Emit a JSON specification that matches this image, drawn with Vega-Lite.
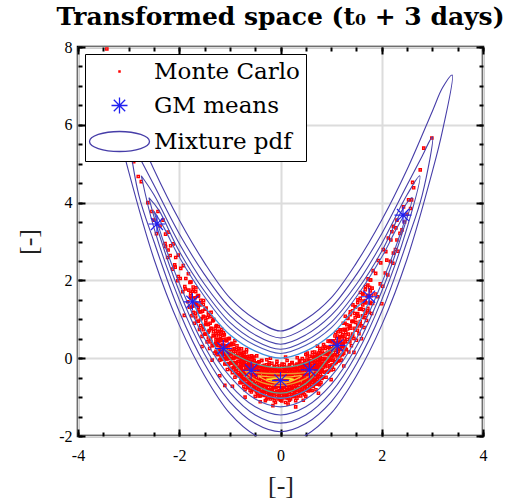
{
"$schema": "https://vega.github.io/schema/vega-lite/v6.json",
"width": 405, "height": 389,
"autosize": {"type": "none"},
"padding": {"left": 78, "top": 47, "right": 23, "bottom": 65},
"background": "white",
"title": {"text": "Transformed space (t₀ + 3 days)", "font": "DejaVu Serif", "fontSize": 25, "fontWeight": "bold", "color": "black", "anchor": "middle", "frame": "group", "offset": 9},
"config": {
  "view": {"stroke": "black", "strokeWidth": 2.5},
  "axis": {"labelFont": "Liberation Serif", "labelFontSize": 16, "labelColor": "black", "titleFont": "Liberation Serif", "titleFontSize": 26, "titleFontWeight": "normal", "titleColor": "#222222", "domain": false, "tickColor": "black", "tickWidth": 2, "gridColor": "#dcdcdc", "gridWidth": 2, "labelFlush": false, "labelOverlap": false, "labelExpr": "replace(datum.label, '\u2212', '-')"}
},
"datasets": {
"mc": [
{"x":-0.8,"y":-0.63},{"x":-0.78,"y":-0.52},{"x":-0.81,"y":-0.42},{"x":-0.79,"y":-0.34},{"x":-0.82,"y":-0.25},{"x":-0.79,"y":-0.17},{"x":-0.78,"y":-0.08},{"x":-0.81,"y":0.01},{"x":-0.8,"y":0.12},{"x":-0.82,"y":0.25},
{"x":-0.75,"y":-0.63},{"x":-0.73,"y":-0.54},{"x":-0.76,"y":-0.43},{"x":-0.74,"y":-0.35},{"x":-0.77,"y":-0.26},{"x":-0.74,"y":-0.18},{"x":-0.73,"y":-0.09},{"x":-0.76,"y":0.0},{"x":-0.75,"y":0.1},{"x":-0.77,"y":0.24},
{"x":-0.7,"y":-0.81},{"x":-0.68,"y":-0.66},{"x":-0.71,"y":-0.56},{"x":-0.69,"y":-0.42},{"x":-0.72,"y":-0.34},{"x":-0.69,"y":-0.25},{"x":-0.68,"y":-0.17},{"x":-0.71,"y":-0.07},{"x":-0.7,"y":0.03},{"x":-0.72,"y":0.1},
{"x":-0.65,"y":-0.75},{"x":-0.63,"y":-0.65},{"x":-0.66,"y":-0.55},{"x":-0.64,"y":-0.42},{"x":-0.67,"y":-0.33},{"x":-0.64,"y":-0.25},{"x":-0.63,"y":-0.16},{"x":-0.66,"y":-0.06},{"x":-0.65,"y":0.04},{"x":-0.67,"y":0.22},
{"x":-0.6,"y":-0.83},{"x":-0.58,"y":-0.72},{"x":-0.61,"y":-0.62},{"x":-0.59,"y":-0.54},{"x":-0.62,"y":-0.45},{"x":-0.59,"y":-0.37},{"x":-0.58,"y":-0.28},{"x":-0.61,"y":-0.19},{"x":-0.6,"y":-0.08},{"x":-0.62,"y":0.05},
{"x":-0.55,"y":-0.81},{"x":-0.53,"y":-0.72},{"x":-0.56,"y":-0.61},{"x":-0.54,"y":-0.53},{"x":-0.57,"y":-0.44},{"x":-0.54,"y":-0.36},{"x":-0.53,"y":-0.27},{"x":-0.56,"y":-0.18},{"x":-0.55,"y":-0.08},{"x":-0.57,"y":0.06},
{"x":-0.5,"y":-0.98},{"x":-0.48,"y":-0.83},{"x":-0.51,"y":-0.73},{"x":-0.49,"y":-0.59},{"x":-0.52,"y":-0.51},{"x":-0.49,"y":-0.42},{"x":-0.48,"y":-0.34},{"x":-0.51,"y":-0.24},{"x":-0.5,"y":-0.14},{"x":-0.52,"y":-0.07},
{"x":-0.45,"y":-0.91},{"x":-0.43,"y":-0.81},{"x":-0.46,"y":-0.71},{"x":-0.44,"y":-0.58},{"x":-0.47,"y":-0.49},{"x":-0.44,"y":-0.41},{"x":-0.43,"y":-0.32},{"x":-0.46,"y":-0.22},{"x":-0.45,"y":-0.12},{"x":-0.47,"y":0.06},
{"x":-0.4,"y":-0.97},{"x":-0.38,"y":-0.86},{"x":-0.41,"y":-0.76},{"x":-0.39,"y":-0.68},{"x":-0.42,"y":-0.59},{"x":-0.39,"y":-0.51},{"x":-0.38,"y":-0.42},{"x":-0.41,"y":-0.33},{"x":-0.4,"y":-0.22},{"x":-0.42,"y":-0.09},
{"x":-0.35,"y":-0.93},{"x":-0.33,"y":-0.84},{"x":-0.36,"y":-0.73},{"x":-0.34,"y":-0.65},{"x":-0.37,"y":-0.56},{"x":-0.34,"y":-0.48},{"x":-0.33,"y":-0.39},{"x":-0.36,"y":-0.3},{"x":-0.35,"y":-0.2},{"x":-0.37,"y":-0.06},
{"x":-0.3,"y":-1.09},{"x":-0.28,"y":-0.94},{"x":-0.31,"y":-0.84},{"x":-0.29,"y":-0.7},{"x":-0.32,"y":-0.62},{"x":-0.29,"y":-0.53},{"x":-0.28,"y":-0.45},{"x":-0.31,"y":-0.35},{"x":-0.3,"y":-0.25},{"x":-0.32,"y":-0.18},
{"x":-0.25,"y":-1.01},{"x":-0.23,"y":-0.91},{"x":-0.26,"y":-0.81},{"x":-0.24,"y":-0.68},{"x":-0.27,"y":-0.59},{"x":-0.24,"y":-0.51},{"x":-0.23,"y":-0.42},{"x":-0.26,"y":-0.32},{"x":-0.25,"y":-0.22},{"x":-0.27,"y":-0.04},
{"x":-0.2,"y":-1.05},{"x":-0.18,"y":-0.94},{"x":-0.21,"y":-0.84},{"x":-0.19,"y":-0.76},{"x":-0.22,"y":-0.67},{"x":-0.19,"y":-0.59},{"x":-0.18,"y":-0.5},{"x":-0.21,"y":-0.41},{"x":-0.2,"y":-0.3},{"x":-0.22,"y":-0.17},
{"x":-0.15,"y":-1.0},{"x":-0.13,"y":-0.91},{"x":-0.16,"y":-0.8},{"x":-0.14,"y":-0.72},{"x":-0.17,"y":-0.63},{"x":-0.14,"y":-0.55},{"x":-0.13,"y":-0.46},{"x":-0.16,"y":-0.37},{"x":-0.15,"y":-0.27},{"x":-0.17,"y":-0.13},
{"x":-0.1,"y":-1.14},{"x":-0.08,"y":-0.99},{"x":-0.11,"y":-0.89},{"x":-0.09,"y":-0.75},{"x":-0.12,"y":-0.67},{"x":-0.09,"y":-0.58},{"x":-0.08,"y":-0.5},{"x":-0.11,"y":-0.4},{"x":-0.1,"y":-0.3},{"x":-0.12,"y":-0.23},
{"x":-0.05,"y":-1.05},{"x":-0.03,"y":-0.95},{"x":-0.06,"y":-0.85},{"x":-0.04,"y":-0.72},{"x":-0.07,"y":-0.63},{"x":-0.04,"y":-0.55},{"x":-0.03,"y":-0.46},{"x":-0.06,"y":-0.36},{"x":-0.05,"y":-0.26},{"x":-0.07,"y":-0.08},
{"x":0.0,"y":-1.08},{"x":0.02,"y":-0.97},{"x":-0.01,"y":-0.87},{"x":0.01,"y":-0.79},{"x":-0.02,"y":-0.7},{"x":0.01,"y":-0.62},{"x":0.02,"y":-0.53},{"x":-0.01,"y":-0.44},{"x":0.0,"y":-0.33},{"x":-0.02,"y":-0.2},
{"x":0.05,"y":-1.02},{"x":0.07,"y":-0.93},{"x":0.04,"y":-0.82},{"x":0.06,"y":-0.74},{"x":0.03,"y":-0.65},{"x":0.06,"y":-0.57},{"x":0.07,"y":-0.48},{"x":0.04,"y":-0.39},{"x":0.05,"y":-0.29},{"x":0.03,"y":-0.15},
{"x":0.1,"y":-1.14},{"x":0.12,"y":-0.99},{"x":0.09,"y":-0.89},{"x":0.11,"y":-0.75},{"x":0.08,"y":-0.67},{"x":0.11,"y":-0.58},{"x":0.12,"y":-0.5},{"x":0.09,"y":-0.4},{"x":0.1,"y":-0.3},{"x":0.08,"y":-0.23},
{"x":0.15,"y":-1.03},{"x":0.17,"y":-0.93},{"x":0.14,"y":-0.83},{"x":0.16,"y":-0.7},{"x":0.13,"y":-0.61},{"x":0.16,"y":-0.53},{"x":0.17,"y":-0.44},{"x":0.14,"y":-0.34},{"x":0.15,"y":-0.24},{"x":0.13,"y":-0.06},
{"x":0.2,"y":-1.05},{"x":0.22,"y":-0.94},{"x":0.19,"y":-0.84},{"x":0.21,"y":-0.76},{"x":0.18,"y":-0.67},{"x":0.21,"y":-0.59},{"x":0.22,"y":-0.5},{"x":0.19,"y":-0.41},{"x":0.2,"y":-0.3},{"x":0.18,"y":-0.17},
{"x":0.25,"y":-0.98},{"x":0.27,"y":-0.89},{"x":0.24,"y":-0.78},{"x":0.26,"y":-0.7},{"x":0.23,"y":-0.61},{"x":0.26,"y":-0.53},{"x":0.27,"y":-0.44},{"x":0.24,"y":-0.35},{"x":0.25,"y":-0.25},{"x":0.23,"y":-0.11},
{"x":0.3,"y":-1.09},{"x":0.32,"y":-0.94},{"x":0.29,"y":-0.84},{"x":0.31,"y":-0.7},{"x":0.28,"y":-0.62},{"x":0.31,"y":-0.53},{"x":0.32,"y":-0.45},{"x":0.29,"y":-0.35},{"x":0.3,"y":-0.25},{"x":0.28,"y":-0.18},
{"x":0.35,"y":-0.96},{"x":0.37,"y":-0.86},{"x":0.34,"y":-0.76},{"x":0.36,"y":-0.63},{"x":0.33,"y":-0.54},{"x":0.36,"y":-0.46},{"x":0.37,"y":-0.37},{"x":0.34,"y":-0.27},{"x":0.35,"y":-0.17},{"x":0.33,"y":0.01},
{"x":0.4,"y":-0.97},{"x":0.42,"y":-0.86},{"x":0.39,"y":-0.76},{"x":0.41,"y":-0.68},{"x":0.38,"y":-0.59},{"x":0.41,"y":-0.51},{"x":0.42,"y":-0.42},{"x":0.39,"y":-0.33},{"x":0.4,"y":-0.22},{"x":0.38,"y":-0.09},
{"x":0.45,"y":-0.88},{"x":0.47,"y":-0.79},{"x":0.44,"y":-0.68},{"x":0.46,"y":-0.6},{"x":0.43,"y":-0.51},{"x":0.46,"y":-0.43},{"x":0.47,"y":-0.34},{"x":0.44,"y":-0.25},{"x":0.45,"y":-0.15},{"x":0.43,"y":-0.01},
{"x":0.5,"y":-0.98},{"x":0.52,"y":-0.83},{"x":0.49,"y":-0.73},{"x":0.51,"y":-0.59},{"x":0.48,"y":-0.51},{"x":0.51,"y":-0.42},{"x":0.52,"y":-0.34},{"x":0.49,"y":-0.24},{"x":0.5,"y":-0.14},{"x":0.48,"y":-0.07},
{"x":0.55,"y":-0.84},{"x":0.57,"y":-0.74},{"x":0.54,"y":-0.64},{"x":0.56,"y":-0.51},{"x":0.53,"y":-0.42},{"x":0.56,"y":-0.34},{"x":0.57,"y":-0.25},{"x":0.54,"y":-0.15},{"x":0.55,"y":-0.05},{"x":0.53,"y":0.13},
{"x":0.6,"y":-0.83},{"x":0.62,"y":-0.72},{"x":0.59,"y":-0.62},{"x":0.61,"y":-0.54},{"x":0.58,"y":-0.45},{"x":0.61,"y":-0.37},{"x":0.62,"y":-0.28},{"x":0.59,"y":-0.19},{"x":0.6,"y":-0.08},{"x":0.58,"y":0.05},
{"x":0.65,"y":-0.72},{"x":0.67,"y":-0.63},{"x":0.64,"y":-0.52},{"x":0.66,"y":-0.44},{"x":0.63,"y":-0.35},{"x":0.66,"y":-0.27},{"x":0.67,"y":-0.18},{"x":0.64,"y":-0.09},{"x":0.65,"y":0.01},{"x":0.63,"y":0.15},
{"x":0.7,"y":-0.81},{"x":0.72,"y":-0.66},{"x":0.69,"y":-0.56},{"x":0.71,"y":-0.42},{"x":0.68,"y":-0.34},{"x":0.71,"y":-0.25},{"x":0.72,"y":-0.17},{"x":0.69,"y":-0.07},{"x":0.7,"y":0.03},{"x":0.68,"y":0.1},
{"x":0.75,"y":-0.66},{"x":0.77,"y":-0.56},{"x":0.74,"y":-0.46},{"x":0.76,"y":-0.33},{"x":0.73,"y":-0.24},{"x":0.76,"y":-0.16},{"x":0.77,"y":-0.07},{"x":0.74,"y":0.03},{"x":0.75,"y":0.13},{"x":0.73,"y":0.31},
{"x":0.8,"y":-0.63},{"x":0.82,"y":-0.52},{"x":0.79,"y":-0.42},{"x":0.81,"y":-0.34},{"x":0.78,"y":-0.25},{"x":0.81,"y":-0.17},{"x":0.82,"y":-0.08},{"x":0.79,"y":0.01},{"x":0.8,"y":0.12},{"x":0.78,"y":0.25},
{"x":-0.775,"y":-0.61},{"x":-0.775,"y":-0.5},{"x":-0.775,"y":-0.41},{"x":-0.775,"y":-0.24},{"x":-0.775,"y":-0.16},{"x":-0.775,"y":-0.07},{"x":-0.775,"y":0.02},{"x":-0.775,"y":0.13},
{"x":-0.725,"y":-0.73},{"x":-0.725,"y":-0.52},{"x":-0.725,"y":-0.4},{"x":-0.725,"y":-0.33},{"x":-0.725,"y":-0.17},{"x":-0.725,"y":-0.08},{"x":-0.725,"y":0.02},{"x":-0.725,"y":0.15},
{"x":-0.675,"y":-0.66},{"x":-0.675,"y":-0.54},{"x":-0.675,"y":-0.41},{"x":-0.675,"y":-0.29},{"x":-0.675,"y":-0.2},{"x":-0.675,"y":-0.11},{"x":-0.675,"y":0.0},{"x":-0.675,"y":0.16},
{"x":-0.625,"y":-0.76},{"x":-0.625,"y":-0.65},{"x":-0.625,"y":-0.56},{"x":-0.625,"y":-0.39},{"x":-0.625,"y":-0.31},{"x":-0.625,"y":-0.22},{"x":-0.625,"y":-0.13},{"x":-0.625,"y":-0.02},
{"x":-0.575,"y":-0.87},{"x":-0.575,"y":-0.66},{"x":-0.575,"y":-0.54},{"x":-0.575,"y":-0.47},{"x":-0.575,"y":-0.31},{"x":-0.575,"y":-0.22},{"x":-0.575,"y":-0.12},{"x":-0.575,"y":0.01},
{"x":-0.525,"y":-0.79},{"x":-0.525,"y":-0.67},{"x":-0.525,"y":-0.54},{"x":-0.525,"y":-0.42},{"x":-0.525,"y":-0.33},{"x":-0.525,"y":-0.24},{"x":-0.525,"y":-0.13},{"x":-0.525,"y":0.03},
{"x":-0.475,"y":-0.87},{"x":-0.475,"y":-0.76},{"x":-0.475,"y":-0.67},{"x":-0.475,"y":-0.5},{"x":-0.475,"y":-0.42},{"x":-0.475,"y":-0.33},{"x":-0.475,"y":-0.24},{"x":-0.475,"y":-0.13},
{"x":-0.425,"y":-0.97},{"x":-0.425,"y":-0.76},{"x":-0.425,"y":-0.64},{"x":-0.425,"y":-0.57},{"x":-0.425,"y":-0.41},{"x":-0.425,"y":-0.32},{"x":-0.425,"y":-0.22},{"x":-0.425,"y":-0.09},
{"x":-0.375,"y":-0.88},{"x":-0.375,"y":-0.76},{"x":-0.375,"y":-0.63},{"x":-0.375,"y":-0.51},{"x":-0.375,"y":-0.42},{"x":-0.375,"y":-0.33},{"x":-0.375,"y":-0.22},{"x":-0.375,"y":-0.06},
{"x":-0.325,"y":-0.96},{"x":-0.325,"y":-0.85},{"x":-0.325,"y":-0.76},{"x":-0.325,"y":-0.59},{"x":-0.325,"y":-0.51},{"x":-0.325,"y":-0.42},{"x":-0.325,"y":-0.33},{"x":-0.325,"y":-0.22},
{"x":-0.275,"y":-1.05},{"x":-0.275,"y":-0.84},{"x":-0.275,"y":-0.72},{"x":-0.275,"y":-0.65},{"x":-0.275,"y":-0.49},{"x":-0.275,"y":-0.4},{"x":-0.275,"y":-0.3},{"x":-0.275,"y":-0.17},
{"x":-0.225,"y":-0.94},{"x":-0.225,"y":-0.82},{"x":-0.225,"y":-0.69},{"x":-0.225,"y":-0.57},{"x":-0.225,"y":-0.48},{"x":-0.225,"y":-0.39},{"x":-0.225,"y":-0.28},{"x":-0.225,"y":-0.12},
{"x":-0.175,"y":-1.01},{"x":-0.175,"y":-0.9},{"x":-0.175,"y":-0.81},{"x":-0.175,"y":-0.64},{"x":-0.175,"y":-0.56},{"x":-0.175,"y":-0.47},{"x":-0.175,"y":-0.38},{"x":-0.175,"y":-0.27},
{"x":-0.125,"y":-1.09},{"x":-0.125,"y":-0.88},{"x":-0.125,"y":-0.76},{"x":-0.125,"y":-0.69},{"x":-0.125,"y":-0.53},{"x":-0.125,"y":-0.44},{"x":-0.125,"y":-0.34},{"x":-0.125,"y":-0.21},
{"x":-0.075,"y":-0.98},{"x":-0.075,"y":-0.86},{"x":-0.075,"y":-0.73},{"x":-0.075,"y":-0.61},{"x":-0.075,"y":-0.52},{"x":-0.075,"y":-0.43},{"x":-0.075,"y":-0.32},{"x":-0.075,"y":-0.16},
{"x":-0.025,"y":-1.03},{"x":-0.025,"y":-0.92},{"x":-0.025,"y":-0.83},{"x":-0.025,"y":-0.66},{"x":-0.025,"y":-0.58},{"x":-0.025,"y":-0.49},{"x":-0.025,"y":-0.4},{"x":-0.025,"y":-0.29},
{"x":0.025,"y":-1.1},{"x":0.025,"y":-0.89},{"x":0.025,"y":-0.77},{"x":0.025,"y":-0.7},{"x":0.025,"y":-0.54},{"x":0.025,"y":-0.45},{"x":0.025,"y":-0.35},{"x":0.025,"y":-0.22},
{"x":0.075,"y":-0.98},{"x":0.075,"y":-0.86},{"x":0.075,"y":-0.73},{"x":0.075,"y":-0.61},{"x":0.075,"y":-0.52},{"x":0.075,"y":-0.43},{"x":0.075,"y":-0.32},{"x":0.075,"y":-0.16},
{"x":0.125,"y":-1.02},{"x":0.125,"y":-0.91},{"x":0.125,"y":-0.82},{"x":0.125,"y":-0.65},{"x":0.125,"y":-0.57},{"x":0.125,"y":-0.48},{"x":0.125,"y":-0.39},{"x":0.125,"y":-0.28},
{"x":0.175,"y":-1.08},{"x":0.175,"y":-0.87},{"x":0.175,"y":-0.75},{"x":0.175,"y":-0.68},{"x":0.175,"y":-0.52},{"x":0.175,"y":-0.43},{"x":0.175,"y":-0.33},{"x":0.175,"y":-0.2},
{"x":0.225,"y":-0.94},{"x":0.225,"y":-0.82},{"x":0.225,"y":-0.69},{"x":0.225,"y":-0.57},{"x":0.225,"y":-0.48},{"x":0.225,"y":-0.39},{"x":0.225,"y":-0.28},{"x":0.225,"y":-0.12},
{"x":0.275,"y":-0.98},{"x":0.275,"y":-0.87},{"x":0.275,"y":-0.78},{"x":0.275,"y":-0.61},{"x":0.275,"y":-0.53},{"x":0.275,"y":-0.44},{"x":0.275,"y":-0.35},{"x":0.275,"y":-0.24},
{"x":0.325,"y":-1.03},{"x":0.325,"y":-0.82},{"x":0.325,"y":-0.7},{"x":0.325,"y":-0.63},{"x":0.325,"y":-0.47},{"x":0.325,"y":-0.38},{"x":0.325,"y":-0.28},{"x":0.325,"y":-0.15},
{"x":0.375,"y":-0.88},{"x":0.375,"y":-0.76},{"x":0.375,"y":-0.63},{"x":0.375,"y":-0.51},{"x":0.375,"y":-0.42},{"x":0.375,"y":-0.33},{"x":0.375,"y":-0.22},{"x":0.375,"y":-0.06},
{"x":0.425,"y":-0.9},{"x":0.425,"y":-0.79},{"x":0.425,"y":-0.7},{"x":0.425,"y":-0.53},{"x":0.425,"y":-0.45},{"x":0.425,"y":-0.36},{"x":0.425,"y":-0.27},{"x":0.425,"y":-0.16},
{"x":0.475,"y":-0.94},{"x":0.475,"y":-0.73},{"x":0.475,"y":-0.61},{"x":0.475,"y":-0.54},{"x":0.475,"y":-0.38},{"x":0.475,"y":-0.29},{"x":0.475,"y":-0.19},{"x":0.475,"y":-0.06},
{"x":0.525,"y":-0.79},{"x":0.525,"y":-0.67},{"x":0.525,"y":-0.54},{"x":0.525,"y":-0.42},{"x":0.525,"y":-0.33},{"x":0.525,"y":-0.24},{"x":0.525,"y":-0.13},{"x":0.525,"y":0.03},
{"x":0.575,"y":-0.8},{"x":0.575,"y":-0.69},{"x":0.575,"y":-0.6},{"x":0.575,"y":-0.43},{"x":0.575,"y":-0.35},{"x":0.575,"y":-0.26},{"x":0.575,"y":-0.17},{"x":0.575,"y":-0.06},
{"x":0.625,"y":-0.83},{"x":0.625,"y":-0.62},{"x":0.625,"y":-0.5},{"x":0.625,"y":-0.43},{"x":0.625,"y":-0.27},{"x":0.625,"y":-0.18},{"x":0.625,"y":-0.08},{"x":0.625,"y":0.05},
{"x":0.675,"y":-0.66},{"x":0.675,"y":-0.54},{"x":0.675,"y":-0.41},{"x":0.675,"y":-0.29},{"x":0.675,"y":-0.2},{"x":0.675,"y":-0.11},{"x":0.675,"y":0.0},{"x":0.675,"y":0.16},
{"x":0.725,"y":-0.66},{"x":0.725,"y":-0.55},{"x":0.725,"y":-0.46},{"x":0.725,"y":-0.29},{"x":0.725,"y":-0.21},{"x":0.725,"y":-0.12},{"x":0.725,"y":-0.03},{"x":0.725,"y":0.08},
{"x":0.775,"y":-0.68},{"x":0.775,"y":-0.47},{"x":0.775,"y":-0.35},{"x":0.775,"y":-0.28},{"x":0.775,"y":-0.12},{"x":0.775,"y":-0.03},{"x":0.775,"y":0.07},{"x":0.775,"y":0.2},
{"x":-1.25,"y":0.09},{"x":-1.23,"y":0.22},{"x":-1.26,"y":0.34},{"x":-1.24,"y":0.45},{"x":-1.27,"y":0.57},{"x":-1.24,"y":0.69},{"x":-1.26,"y":0.84},
{"x":-1.2,"y":-0.05},{"x":-1.18,"y":0.1},{"x":-1.21,"y":0.22},{"x":-1.19,"y":0.33},{"x":-1.22,"y":0.44},{"x":-1.19,"y":0.56},{"x":-1.21,"y":0.69},
{"x":-1.15,"y":-0.03},{"x":-1.13,"y":0.11},{"x":-1.16,"y":0.22},{"x":-1.14,"y":0.34},{"x":-1.17,"y":0.45},{"x":-1.14,"y":0.58},{"x":-1.16,"y":0.74},
{"x":-1.1,"y":-0.15},{"x":-1.08,"y":-0.02},{"x":-1.11,"y":0.1},{"x":-1.09,"y":0.21},{"x":-1.12,"y":0.33},{"x":-1.09,"y":0.45},{"x":-1.11,"y":0.6},
{"x":-1.05,"y":-0.29},{"x":-1.03,"y":-0.14},{"x":-1.06,"y":-0.02},{"x":-1.04,"y":0.09},{"x":-1.07,"y":0.2},{"x":-1.04,"y":0.32},{"x":-1.06,"y":0.45},
{"x":-1.0,"y":-0.26},{"x":-0.98,"y":-0.12},{"x":-1.01,"y":-0.01},{"x":-0.99,"y":0.11},{"x":-1.02,"y":0.22},{"x":-0.99,"y":0.35},{"x":-1.01,"y":0.51},
{"x":-0.95,"y":-0.37},{"x":-0.93,"y":-0.24},{"x":-0.96,"y":-0.12},{"x":-0.94,"y":-0.01},{"x":-0.97,"y":0.11},{"x":-0.94,"y":0.23},{"x":-0.96,"y":0.38},
{"x":-0.9,"y":-0.49},{"x":-0.88,"y":-0.34},{"x":-0.91,"y":-0.22},{"x":-0.89,"y":-0.11},{"x":-0.92,"y":0.0},{"x":-0.89,"y":0.12},{"x":-0.91,"y":0.25},
{"x":-0.85,"y":-0.45},{"x":-0.83,"y":-0.31},{"x":-0.86,"y":-0.2},{"x":-0.84,"y":-0.08},{"x":-0.87,"y":0.03},{"x":-0.84,"y":0.16},{"x":-0.86,"y":0.32},
{"x":0.85,"y":-0.49},{"x":0.87,"y":-0.36},{"x":0.84,"y":-0.24},{"x":0.86,"y":-0.13},{"x":0.83,"y":-0.01},{"x":0.86,"y":0.11},{"x":0.84,"y":0.26},
{"x":0.9,"y":-0.49},{"x":0.92,"y":-0.34},{"x":0.89,"y":-0.22},{"x":0.91,"y":-0.11},{"x":0.88,"y":0.0},{"x":0.91,"y":0.12},{"x":0.89,"y":0.25},
{"x":0.95,"y":-0.33},{"x":0.97,"y":-0.19},{"x":0.94,"y":-0.08},{"x":0.96,"y":0.04},{"x":0.93,"y":0.15},{"x":0.96,"y":0.28},{"x":0.94,"y":0.44},
{"x":1.0,"y":-0.3},{"x":1.02,"y":-0.17},{"x":0.99,"y":-0.05},{"x":1.01,"y":0.06},{"x":0.98,"y":0.18},{"x":1.01,"y":0.3},{"x":0.99,"y":0.45},
{"x":1.05,"y":-0.29},{"x":1.07,"y":-0.14},{"x":1.04,"y":-0.02},{"x":1.06,"y":0.09},{"x":1.03,"y":0.2},{"x":1.06,"y":0.32},{"x":1.04,"y":0.45},
{"x":1.1,"y":-0.11},{"x":1.12,"y":0.03},{"x":1.09,"y":0.14},{"x":1.11,"y":0.26},{"x":1.08,"y":0.37},{"x":1.11,"y":0.5},{"x":1.09,"y":0.66},
{"x":1.15,"y":-0.07},{"x":1.17,"y":0.06},{"x":1.14,"y":0.18},{"x":1.16,"y":0.29},{"x":1.13,"y":0.41},{"x":1.16,"y":0.53},{"x":1.14,"y":0.68},
{"x":1.2,"y":-0.05},{"x":1.22,"y":0.1},{"x":1.19,"y":0.22},{"x":1.21,"y":0.33},{"x":1.18,"y":0.44},{"x":1.21,"y":0.56},{"x":1.19,"y":0.69},
{"x":1.25,"y":0.13},{"x":1.27,"y":0.27},{"x":1.24,"y":0.38},{"x":1.26,"y":0.5},{"x":1.23,"y":0.61},{"x":1.26,"y":0.74},{"x":1.24,"y":0.9},
{"x":-1.275,"y":0.18},{"x":-1.275,"y":0.34},{"x":-1.275,"y":0.47},{"x":-1.275,"y":0.64},{"x":-1.275,"y":0.82},
{"x":-1.225,"y":0.15},{"x":-1.225,"y":0.33},{"x":-1.225,"y":0.48},{"x":-1.225,"y":0.63},{"x":-1.225,"y":0.81},
{"x":-1.175,"y":0.01},{"x":-1.175,"y":0.17},{"x":-1.175,"y":0.3},{"x":-1.175,"y":0.47},{"x":-1.175,"y":0.65},
{"x":-1.125,"y":-0.01},{"x":-1.125,"y":0.17},{"x":-1.125,"y":0.32},{"x":-1.125,"y":0.47},{"x":-1.125,"y":0.65},
{"x":-1.075,"y":-0.15},{"x":-1.075,"y":0.01},{"x":-1.075,"y":0.14},{"x":-1.075,"y":0.31},{"x":-1.075,"y":0.49},
{"x":-1.025,"y":-0.16},{"x":-1.025,"y":0.02},{"x":-1.025,"y":0.17},{"x":-1.025,"y":0.32},{"x":-1.025,"y":0.5},
{"x":-0.975,"y":-0.29},{"x":-0.975,"y":-0.13},{"x":-0.975,"y":0.0},{"x":-0.975,"y":0.17},{"x":-0.975,"y":0.35},
{"x":-0.925,"y":-0.3},{"x":-0.925,"y":-0.12},{"x":-0.925,"y":0.03},{"x":-0.925,"y":0.18},{"x":-0.925,"y":0.36},
{"x":-0.875,"y":-0.42},{"x":-0.875,"y":-0.26},{"x":-0.875,"y":-0.13},{"x":-0.875,"y":0.04},{"x":-0.875,"y":0.22},
{"x":-0.825,"y":-0.42},{"x":-0.825,"y":-0.24},{"x":-0.825,"y":-0.09},{"x":-0.825,"y":0.06},{"x":-0.825,"y":0.24},
{"x":0.825,"y":-0.48},{"x":0.825,"y":-0.32},{"x":0.825,"y":-0.19},{"x":0.825,"y":-0.02},{"x":0.825,"y":0.16},
{"x":0.875,"y":-0.36},{"x":0.875,"y":-0.18},{"x":0.875,"y":-0.03},{"x":0.875,"y":0.12},{"x":0.875,"y":0.3},
{"x":0.925,"y":-0.36},{"x":0.925,"y":-0.2},{"x":0.925,"y":-0.07},{"x":0.925,"y":0.1},{"x":0.925,"y":0.28},
{"x":0.975,"y":-0.23},{"x":0.975,"y":-0.05},{"x":0.975,"y":0.1},{"x":0.975,"y":0.25},{"x":0.975,"y":0.43},
{"x":1.025,"y":-0.22},{"x":1.025,"y":-0.06},{"x":1.025,"y":0.07},{"x":1.025,"y":0.24},{"x":1.025,"y":0.42},
{"x":1.075,"y":-0.09},{"x":1.075,"y":0.09},{"x":1.075,"y":0.24},{"x":1.075,"y":0.39},{"x":1.075,"y":0.57},
{"x":1.125,"y":-0.07},{"x":1.125,"y":0.09},{"x":1.125,"y":0.22},{"x":1.125,"y":0.39},{"x":1.125,"y":0.57},
{"x":1.175,"y":0.07},{"x":1.175,"y":0.25},{"x":1.175,"y":0.4},{"x":1.175,"y":0.55},{"x":1.175,"y":0.73},
{"x":1.225,"y":0.09},{"x":1.225,"y":0.25},{"x":1.225,"y":0.38},{"x":1.225,"y":0.55},{"x":1.225,"y":0.73},
{"x":1.275,"y":0.24},{"x":1.275,"y":0.42},{"x":1.275,"y":0.57},{"x":1.275,"y":0.72},{"x":1.275,"y":0.9},
{"x":-1.3,"y":0.13},{"x":-1.28,"y":0.38},{"x":-1.31,"y":0.58},{"x":-1.29,"y":0.76},{"x":-1.32,"y":1.0},
{"x":-1.35,"y":0.32},{"x":-1.33,"y":0.58},{"x":-1.36,"y":0.76},{"x":-1.34,"y":0.96},{"x":-1.37,"y":1.18},
{"x":-1.4,"y":0.25},{"x":-1.38,"y":0.51},{"x":-1.41,"y":0.71},{"x":-1.39,"y":0.9},{"x":-1.42,"y":1.11},
{"x":-1.45,"y":0.42},{"x":-1.43,"y":0.67},{"x":-1.46,"y":0.87},{"x":-1.44,"y":1.05},{"x":-1.47,"y":1.29},
{"x":-1.5,"y":0.62},{"x":-1.48,"y":0.88},{"x":-1.51,"y":1.06},{"x":-1.49,"y":1.26},{"x":-1.52,"y":1.48},
{"x":-1.55,"y":0.56},{"x":-1.53,"y":0.82},{"x":-1.56,"y":1.02},{"x":-1.54,"y":1.21},{"x":-1.57,"y":1.42},
{"x":-1.6,"y":0.74},{"x":-1.58,"y":0.99},{"x":-1.61,"y":1.19},{"x":-1.59,"y":1.37},{"x":-1.62,"y":1.61},
{"x":-1.65,"y":0.95},{"x":-1.63,"y":1.21},{"x":-1.66,"y":1.39},{"x":-1.64,"y":1.59},{"x":-1.67,"y":1.81},
{"x":-1.7,"y":0.9},{"x":-1.68,"y":1.16},{"x":-1.71,"y":1.36},{"x":-1.69,"y":1.55},{"x":-1.72,"y":1.76},
{"x":-1.75,"y":1.09},{"x":-1.73,"y":1.34},{"x":-1.76,"y":1.54},{"x":-1.74,"y":1.72},{"x":-1.77,"y":1.96},
{"x":-1.8,"y":1.31},{"x":-1.78,"y":1.57},{"x":-1.81,"y":1.75},{"x":-1.79,"y":1.95},{"x":-1.82,"y":2.17},
{"x":1.3,"y":0.22},{"x":1.32,"y":0.48},{"x":1.29,"y":0.66},{"x":1.31,"y":0.86},{"x":1.28,"y":1.08},
{"x":1.35,"y":0.16},{"x":1.37,"y":0.42},{"x":1.34,"y":0.62},{"x":1.36,"y":0.81},{"x":1.33,"y":1.02},
{"x":1.4,"y":0.32},{"x":1.42,"y":0.57},{"x":1.39,"y":0.77},{"x":1.41,"y":0.95},{"x":1.38,"y":1.19},
{"x":1.45,"y":0.51},{"x":1.47,"y":0.77},{"x":1.44,"y":0.95},{"x":1.46,"y":1.15},{"x":1.43,"y":1.37},
{"x":1.5,"y":0.46},{"x":1.52,"y":0.72},{"x":1.49,"y":0.92},{"x":1.51,"y":1.11},{"x":1.48,"y":1.32},
{"x":1.55,"y":0.63},{"x":1.57,"y":0.88},{"x":1.54,"y":1.08},{"x":1.56,"y":1.26},{"x":1.53,"y":1.5},
{"x":1.6,"y":0.83},{"x":1.62,"y":1.09},{"x":1.59,"y":1.27},{"x":1.61,"y":1.47},{"x":1.58,"y":1.69},
{"x":1.65,"y":0.79},{"x":1.67,"y":1.05},{"x":1.64,"y":1.25},{"x":1.66,"y":1.44},{"x":1.63,"y":1.65},
{"x":1.7,"y":0.97},{"x":1.72,"y":1.22},{"x":1.69,"y":1.42},{"x":1.71,"y":1.6},{"x":1.68,"y":1.84},
{"x":1.75,"y":1.18},{"x":1.77,"y":1.44},{"x":1.74,"y":1.62},{"x":1.76,"y":1.82},{"x":1.73,"y":2.04},
{"x":1.8,"y":1.15},{"x":1.82,"y":1.41},{"x":1.79,"y":1.61},{"x":1.81,"y":1.8},{"x":1.78,"y":2.01},
{"x":-1.325,"y":0.33},{"x":-1.325,"y":0.68},{"x":-1.325,"y":0.98},{"x":-1.375,"y":0.42},{"x":-1.375,"y":0.77},{"x":-1.375,"y":1.07},{"x":-1.425,"y":0.52},{"x":-1.425,"y":0.87},{"x":-1.425,"y":1.17},{"x":-1.475,"y":0.62},{"x":-1.475,"y":0.97},{"x":-1.475,"y":1.27},
{"x":-1.525,"y":0.73},{"x":-1.525,"y":1.08},{"x":-1.525,"y":1.38},{"x":-1.575,"y":0.84},{"x":-1.575,"y":1.19},{"x":-1.575,"y":1.49},{"x":-1.625,"y":0.95},{"x":-1.625,"y":1.3},{"x":-1.625,"y":1.6},{"x":-1.675,"y":1.06},{"x":-1.675,"y":1.41},{"x":-1.675,"y":1.71},
{"x":-1.725,"y":1.18},{"x":-1.725,"y":1.53},{"x":-1.725,"y":1.83},{"x":-1.775,"y":1.31},{"x":-1.775,"y":1.66},{"x":-1.775,"y":1.96},
{"x":1.325,"y":0.43},{"x":1.325,"y":0.75},{"x":1.325,"y":1.03},{"x":1.375,"y":0.52},{"x":1.375,"y":0.84},{"x":1.375,"y":1.12},{"x":1.425,"y":0.62},{"x":1.425,"y":0.94},{"x":1.425,"y":1.22},{"x":1.475,"y":0.72},{"x":1.475,"y":1.04},{"x":1.475,"y":1.32},
{"x":1.525,"y":0.83},{"x":1.525,"y":1.15},{"x":1.525,"y":1.43},{"x":1.575,"y":0.94},{"x":1.575,"y":1.26},{"x":1.575,"y":1.54},{"x":1.625,"y":1.05},{"x":1.625,"y":1.37},{"x":1.625,"y":1.65},{"x":1.675,"y":1.16},{"x":1.675,"y":1.48},{"x":1.675,"y":1.76},
{"x":1.725,"y":1.28},{"x":1.725,"y":1.6},{"x":1.725,"y":1.88},{"x":1.775,"y":1.41},{"x":1.775,"y":1.73},{"x":1.775,"y":2.01},
{"x":-1.83,"y":1.45},{"x":-1.87,"y":2.05},{"x":-1.88,"y":1.78},{"x":-1.92,"y":2.38},{"x":-1.93,"y":1.71},{"x":-1.97,"y":2.31},{"x":-1.98,"y":2.05},{"x":-2.02,"y":2.65},{"x":-2.03,"y":1.99},{"x":-2.07,"y":2.59},
{"x":-2.08,"y":2.34},{"x":-2.12,"y":2.94},{"x":-2.13,"y":2.29},{"x":-2.17,"y":2.89},{"x":-2.18,"y":2.64},{"x":-2.22,"y":3.24},{"x":-2.23,"y":2.59},{"x":-2.27,"y":3.19},{"x":-2.28,"y":2.95},{"x":-2.32,"y":3.55},
{"x":1.87,"y":1.65},{"x":1.83,"y":2.25},{"x":1.92,"y":1.58},{"x":1.88,"y":2.18},{"x":1.97,"y":1.91},{"x":1.93,"y":2.51},{"x":2.02,"y":1.85},{"x":1.98,"y":2.45},{"x":2.07,"y":2.19},{"x":2.03,"y":2.79},
{"x":2.12,"y":2.14},{"x":2.08,"y":2.74},{"x":2.17,"y":2.49},{"x":2.13,"y":3.09},{"x":2.22,"y":2.44},{"x":2.18,"y":3.04},{"x":2.27,"y":2.79},{"x":2.23,"y":3.39},{"x":2.32,"y":2.75},{"x":2.28,"y":3.35},
{"x":-2.81,"y":4.67},{"x":-2.75,"y":4.54},{"x":-2.62,"y":4.0},{"x":-2.54,"y":3.77},{"x":-2.42,"y":3.77},{"x":-2.27,"y":2.87},{"x":-2.22,"y":2.78},{"x":-2.09,"y":2.4},{"x":-2.02,"y":2.1},{"x":-1.89,"y":1.84},{"x":-3.43,"y":7.95},{"x":-2.45,"y":3.2},{"x":-2.38,"y":3.4},{"x":-2.5,"y":3.55},{"x":-2.9,"y":5.05},
{"x":2.99,"y":5.66},{"x":2.83,"y":5.4},{"x":2.76,"y":4.84},{"x":2.61,"y":4.52},{"x":2.63,"y":4.38},{"x":2.53,"y":4.07},{"x":2.59,"y":4.07},{"x":2.43,"y":3.89},{"x":2.57,"y":3.85},{"x":2.3,"y":3.55},{"x":2.2,"y":3.25},{"x":2.36,"y":3.21},{"x":2.3,"y":3.04},{"x":2.23,"y":2.7},{"x":2.1,"y":2.52},{"x":2.45,"y":3.5},{"x":2.5,"y":3.7},{"x":2.4,"y":3.3},
{"x":-1.35,"y":-0.05},{"x":-1.2,"y":-0.45},{"x":-0.95,"y":-0.72},{"x":-0.7,"y":-1.0},{"x":-0.4,"y":-1.12},{"x":-0.15,"y":-1.22},{"x":0.15,"y":-1.18},{"x":0.45,"y":-1.08},{"x":0.75,"y":-0.9},{"x":1.0,"y":-0.55},{"x":1.25,"y":-0.2},{"x":1.45,"y":0.15},{"x":-0.55,"y":0.02},{"x":-0.2,"y":0.0},{"x":0.1,"y":0.03},{"x":0.5,"y":0.1},{"x":0.85,"y":0.35},{"x":-0.9,"y":0.45},{"x":-1.55,"y":0.3},{"x":1.6,"y":0.5},{"x":-1.9,"y":1.1},{"x":2.0,"y":1.4},{"x":0.3,"y":-1.25},{"x":-1.1,"y":-0.7}
],
"gm": [
{"x":-2.44,"y":3.45},{"x":-1.74,"y":1.45},{"x":-1.13,"y":0.25},{"x":-0.58,"y":-0.31},{"x":0.0,"y":-0.57},{"x":0.57,"y":-0.3},{"x":1.12,"y":0.33},{"x":1.75,"y":1.58},{"x":2.42,"y":3.68}
],
"cp": [
{"c":1,"i":0,"x":-3.39,"y":7.28},{"c":1,"i":1,"x":-3.2,"y":6.95},{"c":1,"i":2,"x":-3.0,"y":6.35},{"c":1,"i":3,"x":-2.5,"y":4.85},{"c":1,"i":4,"x":-2.0,"y":3.55},{"c":1,"i":5,"x":-1.5,"y":2.45},{"c":1,"i":6,"x":-1.0,"y":1.55},{"c":1,"i":7,"x":-0.5,"y":1.0},{"c":1,"i":8,"x":0.0,"y":0.7},{"c":1,"i":9,"x":0.5,"y":1.0},{"c":1,"i":10,"x":1.0,"y":1.55},{"c":1,"i":11,"x":1.5,"y":2.45},{"c":1,"i":12,"x":2.0,"y":3.55},{"c":1,"i":13,"x":2.5,"y":4.85},{"c":1,"i":14,"x":3.0,"y":6.35},{"c":1,"i":15,"x":3.2,"y":6.95},{"c":1,"i":16,"x":3.39,"y":7.28},{"c":1,"i":17,"x":3.2,"y":5.85},{"c":1,"i":18,"x":3.0,"y":4.8},{"c":1,"i":19,"x":2.5,"y":2.55},{"c":1,"i":20,"x":2.0,"y":0.85},{"c":1,"i":21,"x":1.5,"y":-0.45},{"c":1,"i":22,"x":1.0,"y":-1.42},{"c":1,"i":23,"x":0.5,"y":-1.98},{"c":1,"i":24,"x":0.0,"y":-2.2},{"c":1,"i":25,"x":-0.5,"y":-1.98},{"c":1,"i":26,"x":-1.0,"y":-1.42},{"c":1,"i":27,"x":-1.5,"y":-0.45},{"c":1,"i":28,"x":-2.0,"y":0.85},{"c":1,"i":29,"x":-2.5,"y":2.55},{"c":1,"i":30,"x":-3.0,"y":4.8},{"c":1,"i":31,"x":-3.2,"y":5.85},{"c":1,"i":32,"x":-3.39,"y":7.28},
{"c":2,"i":0,"x":-3.0,"y":5.69},{"c":2,"i":1,"x":-2.8,"y":5.2},{"c":2,"i":2,"x":-2.5,"y":4.45},{"c":2,"i":3,"x":-2.0,"y":3.2},{"c":2,"i":4,"x":-1.5,"y":2.15},{"c":2,"i":5,"x":-1.0,"y":1.3},{"c":2,"i":6,"x":-0.5,"y":0.78},{"c":2,"i":7,"x":0.0,"y":0.52},{"c":2,"i":8,"x":0.5,"y":0.78},{"c":2,"i":9,"x":1.0,"y":1.3},{"c":2,"i":10,"x":1.5,"y":2.15},{"c":2,"i":11,"x":2.0,"y":3.2},{"c":2,"i":12,"x":2.5,"y":4.45},{"c":2,"i":13,"x":2.8,"y":5.2},{"c":2,"i":14,"x":3.0,"y":5.69},{"c":2,"i":15,"x":2.8,"y":4.2},{"c":2,"i":16,"x":2.5,"y":3.0},{"c":2,"i":17,"x":2.0,"y":1.2},{"c":2,"i":18,"x":1.5,"y":-0.15},{"c":2,"i":19,"x":1.0,"y":-1.12},{"c":2,"i":20,"x":0.5,"y":-1.68},{"c":2,"i":21,"x":0.0,"y":-1.89},{"c":2,"i":22,"x":-0.5,"y":-1.68},{"c":2,"i":23,"x":-1.0,"y":-1.12},{"c":2,"i":24,"x":-1.5,"y":-0.15},{"c":2,"i":25,"x":-2.0,"y":1.2},{"c":2,"i":26,"x":-2.5,"y":3.0},{"c":2,"i":27,"x":-2.8,"y":4.2},{"c":2,"i":28,"x":-3.0,"y":5.69},
{"c":3,"i":0,"x":-2.75,"y":4.69},{"c":3,"i":1,"x":-2.5,"y":4.2},{"c":3,"i":2,"x":-2.0,"y":2.95},{"c":3,"i":3,"x":-1.5,"y":1.9},{"c":3,"i":4,"x":-1.0,"y":1.1},{"c":3,"i":5,"x":-0.5,"y":0.6},{"c":3,"i":6,"x":0.0,"y":0.36},{"c":3,"i":7,"x":0.5,"y":0.6},{"c":3,"i":8,"x":1.0,"y":1.1},{"c":3,"i":9,"x":1.5,"y":1.9},{"c":3,"i":10,"x":2.0,"y":2.95},{"c":3,"i":11,"x":2.5,"y":4.2},{"c":3,"i":12,"x":2.75,"y":4.69},{"c":3,"i":13,"x":2.5,"y":3.35},{"c":3,"i":14,"x":2.0,"y":1.5},{"c":3,"i":15,"x":1.5,"y":0.1},{"c":3,"i":16,"x":1.0,"y":-0.88},{"c":3,"i":17,"x":0.5,"y":-1.46},{"c":3,"i":18,"x":0.0,"y":-1.67},{"c":3,"i":19,"x":-0.5,"y":-1.46},{"c":3,"i":20,"x":-1.0,"y":-0.88},{"c":3,"i":21,"x":-1.5,"y":0.1},{"c":3,"i":22,"x":-2.0,"y":1.5},{"c":3,"i":23,"x":-2.5,"y":3.35},{"c":3,"i":24,"x":-2.75,"y":4.69},
{"c":4,"i":0,"x":-2.6,"y":4.13},{"c":4,"i":1,"x":-2.4,"y":3.8},{"c":4,"i":2,"x":-2.0,"y":2.75},{"c":4,"i":3,"x":-1.5,"y":1.72},{"c":4,"i":4,"x":-1.0,"y":0.92},{"c":4,"i":5,"x":-0.5,"y":0.45},{"c":4,"i":6,"x":0.0,"y":0.23},{"c":4,"i":7,"x":0.5,"y":0.45},{"c":4,"i":8,"x":1.0,"y":0.92},{"c":4,"i":9,"x":1.5,"y":1.72},{"c":4,"i":10,"x":2.0,"y":2.75},{"c":4,"i":11,"x":2.4,"y":3.8},{"c":4,"i":12,"x":2.6,"y":4.13},{"c":4,"i":13,"x":2.4,"y":3.2},{"c":4,"i":14,"x":2.0,"y":1.72},{"c":4,"i":15,"x":1.5,"y":0.3},{"c":4,"i":16,"x":1.0,"y":-0.68},{"c":4,"i":17,"x":0.5,"y":-1.25},{"c":4,"i":18,"x":0.0,"y":-1.46},{"c":4,"i":19,"x":-0.5,"y":-1.25},{"c":4,"i":20,"x":-1.0,"y":-0.68},{"c":4,"i":21,"x":-1.5,"y":0.3},{"c":4,"i":22,"x":-2.0,"y":1.72},{"c":4,"i":23,"x":-2.4,"y":3.2},{"c":4,"i":24,"x":-2.6,"y":4.13},
{"c":5,"i":0,"x":-2.5,"y":3.78},{"c":5,"i":1,"x":-2.3,"y":3.35},{"c":5,"i":2,"x":-2.0,"y":2.6},{"c":5,"i":3,"x":-1.5,"y":1.58},{"c":5,"i":4,"x":-1.0,"y":0.78},{"c":5,"i":5,"x":-0.5,"y":0.33},{"c":5,"i":6,"x":0.0,"y":0.12},{"c":5,"i":7,"x":0.5,"y":0.33},{"c":5,"i":8,"x":1.0,"y":0.78},{"c":5,"i":9,"x":1.5,"y":1.58},{"c":5,"i":10,"x":2.0,"y":2.6},{"c":5,"i":11,"x":2.3,"y":3.35},{"c":5,"i":12,"x":2.5,"y":3.78},{"c":5,"i":13,"x":2.3,"y":2.95},{"c":5,"i":14,"x":2.0,"y":1.93},{"c":5,"i":15,"x":1.5,"y":0.5},{"c":5,"i":16,"x":1.0,"y":-0.47},{"c":5,"i":17,"x":0.5,"y":-1.05},{"c":5,"i":18,"x":0.0,"y":-1.25},{"c":5,"i":19,"x":-0.5,"y":-1.05},{"c":5,"i":20,"x":-1.0,"y":-0.47},{"c":5,"i":21,"x":-1.5,"y":0.5},{"c":5,"i":22,"x":-2.0,"y":1.93},{"c":5,"i":23,"x":-2.3,"y":2.95},{"c":5,"i":24,"x":-2.5,"y":3.78}
],
"cc": [
{"c":6,"i":0,"x":-1.75,"y":1.54},{"c":6,"i":1,"x":-1.5,"y":1.3},{"c":6,"i":2,"x":-1.0,"y":0.6},{"c":6,"i":3,"x":-0.5,"y":0.18},{"c":6,"i":4,"x":0.0,"y":0.0},{"c":6,"i":5,"x":0.5,"y":0.18},{"c":6,"i":6,"x":1.0,"y":0.6},{"c":6,"i":7,"x":1.5,"y":1.3},{"c":6,"i":8,"x":1.75,"y":1.54},{"c":6,"i":9,"x":1.5,"y":0.78},{"c":6,"i":10,"x":1.0,"y":-0.25},{"c":6,"i":11,"x":0.5,"y":-0.83},{"c":6,"i":12,"x":0.0,"y":-1.03},{"c":6,"i":13,"x":-0.5,"y":-0.83},{"c":6,"i":14,"x":-1.0,"y":-0.25},{"c":6,"i":15,"x":-1.5,"y":0.78},{"c":6,"i":16,"x":-1.75,"y":1.54},
{"c":7,"i":0,"x":-1.16,"y":0.3},{"c":7,"i":1,"x":-1.0,"y":0.16},{"c":7,"i":2,"x":-0.5,"y":-0.14},{"c":7,"i":3,"x":0.0,"y":-0.24},{"c":7,"i":4,"x":0.5,"y":-0.12},{"c":7,"i":5,"x":1.0,"y":0.23},{"c":7,"i":6,"x":1.11,"y":0.34},{"c":7,"i":7,"x":1.0,"y":0.11},{"c":7,"i":8,"x":0.5,"y":-0.65},{"c":7,"i":9,"x":0.0,"y":-0.9},{"c":7,"i":10,"x":-0.5,"y":-0.68},{"c":7,"i":11,"x":-1.0,"y":-0.01},{"c":7,"i":12,"x":-1.16,"y":0.3},
{"c":8,"i":0,"x":-0.7,"y":-0.33},{"c":8,"i":1,"x":-0.5,"y":-0.37},{"c":8,"i":2,"x":0.0,"y":-0.4},{"c":8,"i":3,"x":0.5,"y":-0.37},{"c":8,"i":4,"x":0.65,"y":-0.33},{"c":8,"i":5,"x":0.5,"y":-0.52},{"c":8,"i":6,"x":0.0,"y":-0.7},{"c":8,"i":7,"x":-0.5,"y":-0.55},{"c":8,"i":8,"x":-0.7,"y":-0.33},
{"c":9,"i":0,"x":-0.45,"y":-0.45},{"c":9,"i":1,"x":-0.2,"y":-0.48},{"c":9,"i":2,"x":0.0,"y":-0.49},{"c":9,"i":3,"x":0.2,"y":-0.48},{"c":9,"i":4,"x":0.42,"y":-0.45},{"c":9,"i":5,"x":0.2,"y":-0.6},{"c":9,"i":6,"x":0.0,"y":-0.64},{"c":9,"i":7,"x":-0.2,"y":-0.61},{"c":9,"i":8,"x":-0.45,"y":-0.45},
{"c":10,"i":0,"x":-0.28,"y":-0.54},{"c":10,"i":1,"x":0.0,"y":-0.51},{"c":10,"i":2,"x":0.26,"y":-0.54},{"c":10,"i":3,"x":0.0,"y":-0.59},{"c":10,"i":4,"x":-0.28,"y":-0.54}
],
"lg": [{"s":"Monte Carlo"},{"s":"GM means"},{"s":"Mixture pdf"}]
},
"resolve": {"axis": {"x": "independent", "y": "independent"}},
"layer": [
{
 "data": {"name": "mc"},
 "mark": {"type": "point", "shape": "M-0.12,-0.12H0.12V0.12H-0.12Z", "filled": false, "color": "#ff0000", "strokeWidth": 1.4, "size": 340, "opacity": 1, "clip": true},
 "encoding": {
  "x": {"field": "x", "type": "quantitative", "scale": {"domain": [-4, 4], "nice": false, "zero": false},
        "axis": {"orient": "bottom", "values": [-4, -2, 0, 2, 4], "grid": true, "tickSize": -7, "labelPadding": 18, "title": "[-]", "titleX": 202.5, "titleY": 49, "titleBaseline": "middle", "titleAlign": "center"}},
  "y": {"field": "y", "type": "quantitative", "scale": {"domain": [-2, 8], "nice": false, "zero": false},
        "axis": {"orient": "left", "values": [-2, 0, 2, 4, 6, 8], "grid": true, "tickSize": -7, "labelPadding": 13, "title": "[-]", "titleX": -50, "titleY": 194.5, "titleAngle": -90, "titleBaseline": "middle", "titleAlign": "center"}}
 }
},
{
 "data": {"name": "cp"},
 "mark": {"type": "line", "interpolate": "catmull-rom", "strokeWidth": 1.1, "clip": true},
 "encoding": {
  "x": {"field": "x", "type": "quantitative", "scale": {"domain": [-4, 4], "nice": false, "zero": false},
        "axis": {"orient": "bottom", "values": [-4, -3.5, -3, -2.5, -2, -1.5, -1, -0.5, 0, 0.5, 1, 1.5, 2, 2.5, 3, 3.5, 4], "grid": false, "tickSize": -4, "labels": false, "title": null}},
  "y": {"field": "y", "type": "quantitative", "scale": {"domain": [-2, 8], "nice": false, "zero": false},
        "axis": {"orient": "left", "values": [-2, -1.5, -1, -0.5, 0, 0.5, 1, 1.5, 2, 2.5, 3, 3.5, 4, 4.5, 5, 5.5, 6, 6.5, 7, 7.5, 8], "grid": false, "tickSize": -4, "labels": false, "title": null}},
  "stroke": {"field": "c", "type": "nominal", "scale": {"domain": [1, 2, 3, 4, 5, 6, 7, 8, 9, 10], "range": ["#463da8", "#463da8", "#4743ab", "#4848ae", "#4a55b8", "#3f8ddc", "#5fa596", "#ee9a30", "#f5c03a", "#f3e72a"]}, "legend": null},
  "order": {"field": "i", "type": "quantitative"}
 }
},
{
 "data": {"name": "cc"},
 "mark": {"type": "line", "interpolate": "catmull-rom", "strokeWidth": 1.3, "clip": true},
 "encoding": {
  "x": {"field": "x", "type": "quantitative", "scale": {"domain": [-4, 4], "nice": false, "zero": false},
        "axis": {"orient": "top", "values": [-4, -2, 0, 2, 4], "grid": false, "tickSize": -7, "labels": false, "title": null}},
  "y": {"field": "y", "type": "quantitative", "scale": {"domain": [-2, 8], "nice": false, "zero": false},
        "axis": {"orient": "right", "values": [-2, 0, 2, 4, 6, 8], "grid": false, "tickSize": -7, "labels": false, "title": null}},
  "stroke": {"field": "c", "type": "nominal", "scale": {"domain": [1, 2, 3, 4, 5, 6, 7, 8, 9, 10], "range": ["#463da8", "#463da8", "#4743ab", "#4848ae", "#4a55b8", "#3f8ddc", "#5fa596", "#ee9a30", "#f5c03a", "#f3e72a"]}, "legend": null},
  "order": {"field": "i", "type": "quantitative"}
 }
},
{
 "data": {"name": "gm"},
 "mark": {"type": "point", "shape": "M0,-0.8V0.8M-0.8,0H0.8M-0.57,-0.57L0.57,0.57M-0.57,0.57L0.57,-0.57", "filled": false, "color": "#2020f0", "strokeWidth": 1.2, "size": 450, "opacity": 1, "clip": true},
 "encoding": {
  "x": {"field": "x", "type": "quantitative", "scale": {"domain": [-4, 4], "nice": false, "zero": false},
        "axis": {"orient": "top", "values": [-4, -3.5, -3, -2.5, -2, -1.5, -1, -0.5, 0, 0.5, 1, 1.5, 2, 2.5, 3, 3.5, 4], "grid": false, "tickSize": -4, "labels": false, "title": null}},
  "y": {"field": "y", "type": "quantitative", "scale": {"domain": [-2, 8], "nice": false, "zero": false},
        "axis": {"orient": "right", "values": [-2, -1.5, -1, -0.5, 0, 0.5, 1, 1.5, 2, 2.5, 3, 3.5, 4, 4.5, 5, 5.5, 6, 6.5, 7, 7.5, 8], "grid": false, "tickSize": -4, "labels": false, "title": null}}
 }
},
{
 "data": {"name": "lg"},
 "mark": {"type": "point", "filled": false, "opacity": 0},
 "encoding": {
  "color": {"field": "s", "type": "nominal",
    "scale": {"domain": ["Monte Carlo", "GM means", "Mixture pdf"], "range": ["#ff0000", "#2020f0", "#463da8"]},
    "legend": {"title": null, "orient": "top-left", "offset": 7, "padding": 6, "strokeColor": "black", "fillColor": "white", "labelFont": "DejaVu Serif", "labelFontSize": 23, "labelColor": "black", "symbolSize": 400, "symbolStrokeWidth": 1.3, "symbolOpacity": 1, "symbolOffset": 17, "labelOffset": 23, "rowPadding": 10, "labelLimit": 400, "zindex": 2,
      "encode": {"legend": {"update": {"strokeWidth": {"value": 2}}}}}},
  "shape": {"field": "s", "type": "nominal",
    "scale": {"domain": ["Monte Carlo", "GM means", "Mixture pdf"], "range": ["M-0.06,-0.06H0.06V0.06H-0.06Z", "M0,-0.8V0.8M-0.8,0H0.8M-0.57,-0.57L0.57,0.57M-0.57,0.57L0.57,-0.57", "M-3,0A3,1 0 1,0 3,0A3,1 0 1,0 -3,0Z"]}}
 }
}
]
}
